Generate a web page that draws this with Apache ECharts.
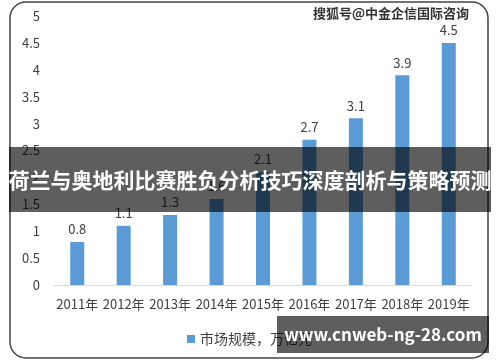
<!DOCTYPE html>
<html><head><meta charset="utf-8">
<script src="https://cdn.jsdelivr.net/npm/echarts@6/dist/echarts.min.js"></script>
<style>html,body{margin:0;padding:0;background:#fff}#c{width:500px;height:362px}</style>
</head><body><div id="c"></div>
<script>
const categories = ['2011年','2012年','2013年','2014年','2015年','2016年','2017年','2018年','2019年'];
const marketSize = [0.8, 1.1, 1.3, 1.6, 2.1, 2.7, 3.1, 3.9, 4.5];
const seriesName = '市场规模，万亿元';
const bannerText = '荷兰与奥地利比赛胜负分析技巧深度剖析与策略预测';
const topMark = '搜狐号@中金企信国际咨询';
const bottomMark = 'www.cnweb-ng-28.com';

const chart = echarts.init(document.getElementById('c'), null, {renderer:'canvas'});
const font = '"Noto Sans CJK SC", "Liberation Sans", sans-serif';
chart.setOption({
  animation:false,
  textStyle:{fontFamily:font},
  grid:{left:54, right:28, top:16, bottom:77},
  xAxis:{type:'category', data:categories,
    axisLine:{lineStyle:{color:'#d9d9d9'}}, axisTick:{show:false},
    axisLabel:{color:'#404040', fontSize:13, margin:13, interval:0}},
  yAxis:{type:'value', min:0, max:5, interval:0.5,
    axisLine:{show:false}, axisTick:{show:false}, splitLine:{show:false},
    axisLabel:{color:'#404040', fontSize:13, margin:14}},
  legend:{left:182, top:327, itemWidth:8, itemHeight:8, icon:'rect',
    textStyle:{color:'#404040', fontSize:14}, data:[seriesName]},
  series:[{type:'bar', name:seriesName, data:marketSize, barWidth:14,
    itemStyle:{color:'#5b9bd5'},
    label:{show:true, position:'top', color:'#404040', fontSize:13, distance:6}}],
  graphic:[
    {type:'rect', z:100, shape:{x:10, y:2, width:478, height:356, r:16},
      style:{fill:'none', stroke:'#444', lineWidth:1.5}},
    {type:'text', z:100, left:312, top:6,
      style:{text:topMark, fill:'#333', stroke:'#fff', lineWidth:2, font:'bold 13px '+font}},
    {type:'rect', z:100, shape:{x:9, y:147, width:482, height:65},
      style:{fill:'rgba(0,0,0,0.63)'}},
    {type:'text', z:101, x:250, y:180,
      style:{text:bannerText, fill:'#fff', font:'bold 21px '+font, align:'center', verticalAlign:'middle'}},
    {type:'rect', z:100, shape:{x:277, y:316, width:212, height:37},
      style:{fill:'rgba(0,0,0,0.63)'}},
    {type:'text', z:101, x:383, y:335,
      style:{text:bottomMark, fill:'#fff', font:'bold 17px '+font, align:'center', verticalAlign:'middle'}}
  ]
});
</script></body></html>
